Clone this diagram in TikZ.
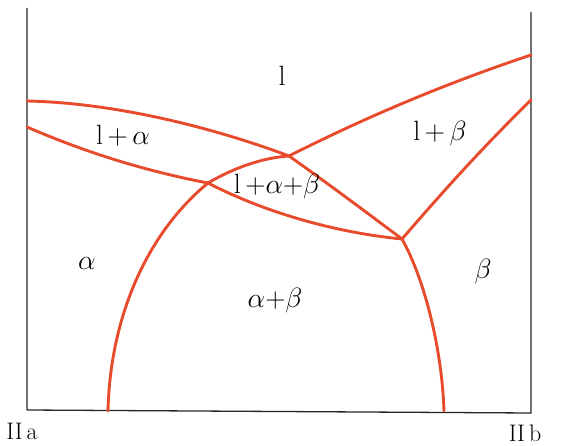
\RequirePackage{fix-cm}
\documentclass[tikz,border=0pt]{standalone}
\usepackage{amsmath}
\usepackage{tikz}
\usetikzlibrary{calc}
\definecolor{phaseline}{RGB}{232,74,44}
\tikzset{phase/.style={phaseline,line width=2.9pt,line cap=round},
  region/.style={font=\fontsize{28}{32}\selectfont},
  comp/.style={font=\fontsize{24}{28}\selectfont,inner sep=0pt}}

\begin{document}
\begin{tikzpicture}[x=1bp,y=-1bp,line join=round]
\useasboundingbox (0,0) rectangle (562,446);
% --- frame and components
\draw[line width=1.3pt,black!85] (27,8) -- (27,410) -- (531,413) -- (531,12);
\node[comp] (ca) at (22,431) {II\,a};
\node[comp] (cb) at (525,433) {II\,b};
% --- invariant points
\coordinate (E) at (289,156);
\coordinate (A) at (208,183);
\coordinate (B) at (402,239);
% --- liquidus and solidus
\draw[phase] (27,101) .. controls (120,103) and (220,130) .. (E);
\draw[phase] (27,127) .. controls (80,150) and (140,170) .. (A);
\draw[phase] (E) .. controls (370,115) and (450,82) .. (531,55);
\draw[phase] (531,100) .. controls (480,150) and (440,195) .. (B);
% --- three phase triangle
\draw[phase] (A) .. controls (232,169) and (260,158) .. (E);
\draw[phase] (A) .. controls (260,210) and (330,232) .. (B);
\draw[phase] (E) .. controls (330,185) and (370,215) .. (B);
% --- solvus
\draw[phase] (A) .. controls (145,235) and (110,320) .. (108,411);
\draw[phase] (B) .. controls (425,280) and (442,350) .. (444,411);
% --- region labels
\node[region] (liq) at (282,76) {l};
\node[region] (la) at (123,136) {l\,+\,$\alpha$};
\node[region] (lb) at (440,134) {l\,+\,$\beta$};
\node[region] (lab) at (277,187) {l\,+$\alpha$+$\beta$};
\node[region] (al) at (87,263) {$\alpha$};
\node[region] (ab) at (275,301) {$\alpha$+$\beta$};
\node[region] (be) at (483,272) {$\beta$};
\end{tikzpicture}
\end{document}
